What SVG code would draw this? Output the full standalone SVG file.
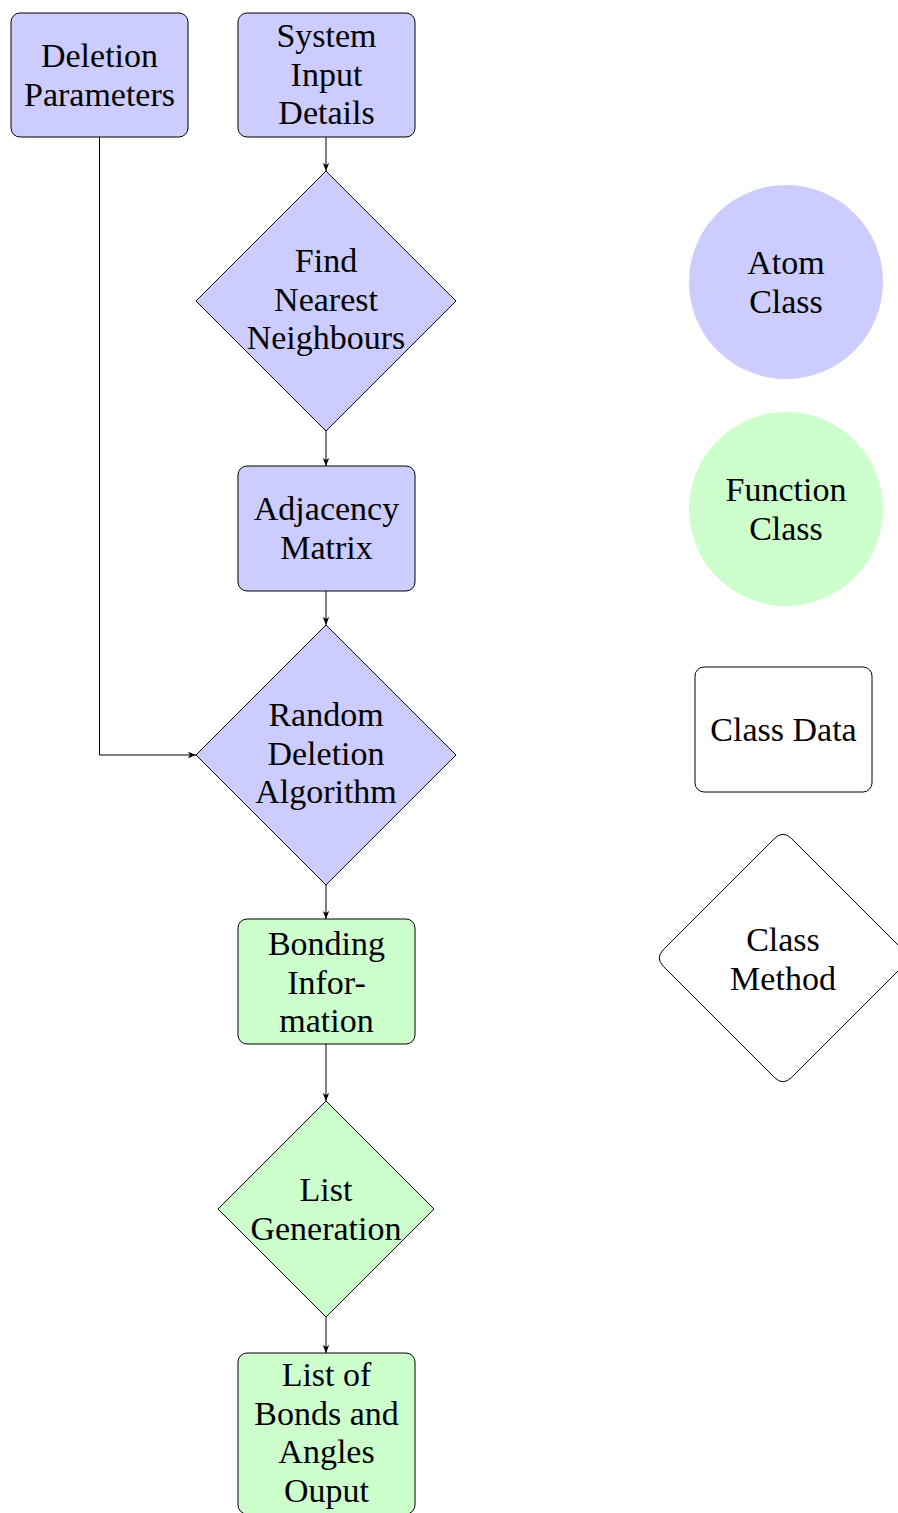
<svg xmlns="http://www.w3.org/2000/svg" width="898" height="1513" viewBox="0 0 898 1513">
<style>
  .blue { fill: #ccccff; stroke: #000; stroke-width: 1; }
  .green { fill: #ccffcc; stroke: #000; stroke-width: 1; }
  .plain { fill: #fff; stroke: #000; stroke-width: 1; }
  text { font-family: "Liberation Serif", "DejaVu Serif", serif; font-size: 34px; fill: #000; text-anchor: middle; }
  .conn { fill: none; stroke: #000; stroke-width: 1; }
</style>
<defs>
  <marker id="arr" markerUnits="userSpaceOnUse" markerWidth="10" markerHeight="10" refX="8" refY="4" orient="auto">
    <path d="M0,0.8 L8,4 L0,7.2 L2,4 Z" fill="#000"/>
  </marker>
</defs>
<rect width="898" height="1513" fill="#fff"/>

<g id="deletion-parameters">
  <rect class="blue" x="11" y="13" width="177" height="124" rx="9"/>
  <text x="99.5" y="67">Deletion</text>
  <text x="99.5" y="105.5">Parameters</text>
</g>
<g id="system-input">
  <rect class="blue" x="238" y="13" width="177" height="124" rx="9"/>
  <text x="326.5" y="47">System</text>
  <text x="326.5" y="85.5">Input</text>
  <text x="326.5" y="124">Details</text>
</g>
<g id="find-nearest">
  <polygon class="blue" points="326,171 456,301 326,431 196,301"/>
  <text x="326" y="272">Find</text>
  <text x="326" y="310.5">Nearest</text>
  <text x="326" y="349">Neighbours</text>
</g>
<g id="adjacency-matrix">
  <rect class="blue" x="238" y="466" width="177" height="125" rx="9"/>
  <text x="326.5" y="520">Adjacency</text>
  <text x="326.5" y="558.5">Matrix</text>
</g>
<g id="random-deletion">
  <polygon class="blue" points="326,625 456,755 326,885 196,755"/>
  <text x="326" y="726">Random</text>
  <text x="326" y="764.5">Deletion</text>
  <text x="326" y="803">Algorithm</text>
</g>
<g id="bonding-information">
  <rect class="green" x="238" y="919" width="177" height="125" rx="9"/>
  <text x="326.5" y="955">Bonding</text>
  <text x="326.5" y="993.5">Infor-</text>
  <text x="326.5" y="1032">mation</text>
</g>
<g id="list-generation">
  <polygon class="green" points="326,1101 434,1209 326,1317 218,1209"/>
  <text x="326" y="1201">List</text>
  <text x="326" y="1239.5">Generation</text>
</g>
<g id="list-output">
  <rect class="green" x="238" y="1353" width="177" height="161" rx="9"/>
  <text x="326.5" y="1386">List of</text>
  <text x="326.5" y="1424.5">Bonds and</text>
  <text x="326.5" y="1463">Angles</text>
  <text x="326.5" y="1501.5">Ouput</text>
</g>

<g id="atom-class">
  <circle cx="786" cy="282" r="97" fill="#ccccff"/>
  <text x="786" y="274">Atom</text>
  <text x="786" y="312.5">Class</text>
</g>
<g id="function-class">
  <circle cx="786" cy="509" r="97" fill="#ccffcc"/>
  <text x="786" y="501">Function</text>
  <text x="786" y="539.5">Class</text>
</g>
<g id="class-data">
  <rect class="plain" x="695" y="667" width="177" height="125" rx="9"/>
  <text x="783.5" y="741">Class Data</text>
</g>
<g id="class-method">
  <path class="plain" d="M774.5,838.5 Q783,830 791.5,838.5 L902.5,949.5 Q911,958 902.5,966.5 L791.5,1077.5 Q783,1086 774.5,1077.5 L663.5,966.5 Q655,958 663.5,949.5 Z"/>
  <text x="783" y="951">Class</text>
  <text x="783" y="989.5">Method</text>
</g>

<g id="connectors">
  <line class="conn" x1="326" y1="137" x2="326" y2="171" marker-end="url(#arr)"/>
  <line class="conn" x1="326" y1="431" x2="326" y2="466" marker-end="url(#arr)"/>
  <line class="conn" x1="326" y1="591" x2="326" y2="625" marker-end="url(#arr)"/>
  <line class="conn" x1="326" y1="885" x2="326" y2="919" marker-end="url(#arr)"/>
  <line class="conn" x1="326" y1="1044" x2="326" y2="1101" marker-end="url(#arr)"/>
  <line class="conn" x1="326" y1="1317" x2="326" y2="1353" marker-end="url(#arr)"/>
  <polyline class="conn" points="99.5,137 99.5,755 196,755" marker-end="url(#arr)"/>
</g>
</svg>
